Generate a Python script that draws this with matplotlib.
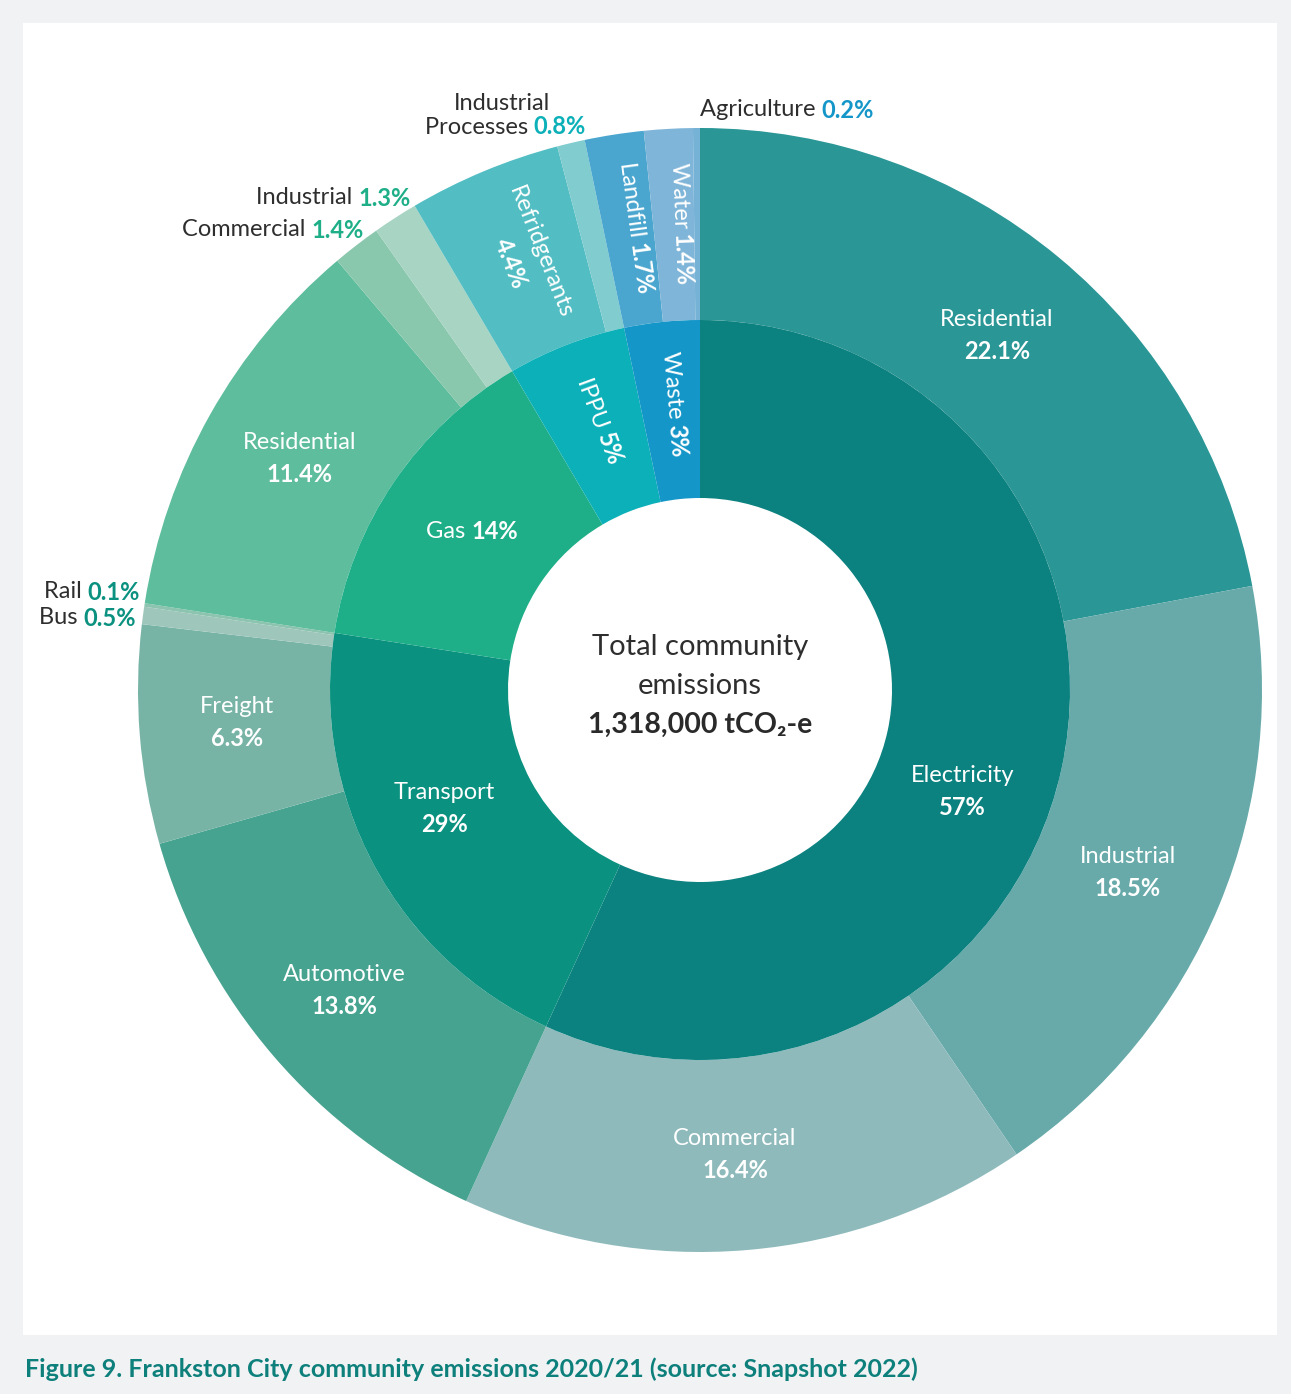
import numpy as np
import matplotlib

matplotlib.use("Agg")
import matplotlib.pyplot as plt
from matplotlib.patches import Rectangle

plt.rcParams["font.family"] = ["Lato", "DejaVu Sans"]

# inner ring (sectors) and their shares as printed on the chart
SECTORS = ["Electricity", "Transport", "Gas", "IPPU", "Waste"]
SECTOR_LABELS = ["57%", "29%", "14%", "5%", "3%"]
# outer ring (sub-sectors), clockwise from 12 o'clock, % of total
SUB_NAMES = ["Residential", "Industrial", "Commercial",
             "Automotive", "Freight", "Bus", "Rail",
             "Residential", "Commercial", "Industrial",
             "Refridgerants", "Processes",
             "Landfill", "Water", "Agriculture"]
SUB_VALUES = [22.1, 18.5, 16.4,
              13.8, 6.3, 0.5, 0.1,
              11.4, 1.4, 1.3,
              4.4, 0.8,
              1.7, 1.4, 0.2]
SUB_GROUP = [0, 0, 0, 1, 1, 1, 1, 2, 2, 2, 3, 3, 4, 4, 4]
TOTAL_LINES = ["Total community", "emissions", "1,318,000 tCO₂-e"]
CAPTION = "Figure 9. Frankston City community emissions 2020/21 (source: Snapshot 2022)"

SECTOR_COLORS = ["#0c8280", "#0a9180", "#1eaf88", "#0cb0b8", "#1496c8"]
SUB_COLORS = ["#2a9696", "#68aaaa", "#8fbabc",
              "#46a390", "#78b4a6", "#9ec6bb", "#8cc4b0",
              "#5dbd9c", "#8ac8ae", "#a8d4c4",
              "#52bec3", "#80cccf",
              "#4aa6cf", "#7fb5d8", "#76b2d6"]

W, H = 1291, 1394
CX, CY = 700, H - 690          # pie centre in pixel coords (y up)
R_OUT, R_MID, R_HOLE = 562, 370, 192
FS = 17

sector_values = [sum(v for v, g in zip(SUB_VALUES, SUB_GROUP) if g == i) for i in range(len(SECTORS))]

fig = plt.figure(figsize=(W / 100, H / 100), dpi=100, facecolor="#f1f2f4")
ax = fig.add_axes([0, 0, 1, 1])
ax.set_xlim(0, W); ax.set_ylim(0, H); ax.set_aspect("equal"); ax.axis("off")
ax.add_patch(Rectangle((23, H - 1335), 1254, 1312, facecolor="white", edgecolor="none", zorder=0))

ax.pie(SUB_VALUES, radius=R_OUT, center=(CX, CY), startangle=90, counterclock=False,
       colors=SUB_COLORS, wedgeprops=dict(width=R_OUT - R_MID, linewidth=0))
ax.pie(sector_values, radius=R_MID, center=(CX, CY), startangle=90, counterclock=False,
       colors=SECTOR_COLORS, wedgeprops=dict(width=R_MID - R_HOLE, linewidth=0))
ax.set_xlim(0, W); ax.set_ylim(0, H)
renderer = fig.canvas.get_renderer()


def polar(theta, r):
    """theta: degrees clockwise from 12 o'clock"""
    t = np.radians(theta)
    return CX + r * np.sin(t), CY + r * np.cos(t)


def radial_rot(theta):
    t = np.radians(theta)
    return np.degrees(np.arctan2(-np.cos(t), -np.sin(t)))


def text_w(s, **kw):
    t = ax.text(0, 0, s, **kw)
    w = t.get_window_extent(renderer).width
    t.remove()
    return w


NAME = dict(fontsize=FS, fontweight="normal")
PCT = dict(fontsize=FS, fontweight="bold")


def inline(x, y, name, pct, rot=0.0, name_col="white", pct_col="white", align="center"):
    """name (regular) + pct (bold) on one line, centred / right-aligned at (x, y), rotated by rot"""
    wn = text_w(name + " ", **NAME)
    wp = text_w(pct, **PCT)
    d = np.array([np.cos(np.radians(rot)), np.sin(np.radians(rot))])
    if align == "center":
        start = np.array([x, y]) - d * (wn + wp) / 2
    elif align == "right":
        start = np.array([x, y]) - d * (wn + wp)
    else:
        start = np.array([x, y])
    ax.text(*start, name + " ", ha="left", va="center_baseline", rotation=rot, rotation_mode="anchor",
            color=name_col, **NAME)
    p = start + d * wn
    ax.text(*p, pct, ha="left", va="center_baseline", rotation=rot, rotation_mode="anchor",
            color=pct_col, **PCT)


def stacked(x, y, name, pct, gap=16):
    ax.text(x, y + gap, name, ha="center", va="center_baseline", color="white", **NAME)
    ax.text(x, y - gap, pct, ha="center", va="center_baseline", color="white", **PCT)


cum = np.cumsum([0] + SUB_VALUES) * 3.6
sub_mid = (cum[:-1] + cum[1:]) / 2
scum = np.cumsum([0] + sector_values) * 3.6
sec_mid = (scum[:-1] + scum[1:]) / 2

# two-line labels in big outer wedges
for i in [0, 1, 2, 3, 4, 7]:
    x, y = polar(sub_mid[i], 464)
    stacked(x, y, SUB_NAMES[i], f"{SUB_VALUES[i]}%")

# refrigerants: rotated two-line label
rot = radial_rot(sub_mid[10])
x, y = polar(sub_mid[10], 466)
perp = np.array([np.sin(np.radians(rot)), -np.cos(np.radians(rot))])   # local "down"
ax.text(x - perp[0] * 15, y - perp[1] * 15, SUB_NAMES[10], ha="center", va="center_baseline",
        rotation=rot, rotation_mode="anchor", color="white", **NAME)
ax.text(x + perp[0] * 17, y + perp[1] * 17, f"{SUB_VALUES[10]}%", ha="center", va="center_baseline",
        rotation=rot, rotation_mode="anchor", color="white", **PCT)
for i in [12, 13]:
    x, y = polar(sub_mid[i], 466)
    inline(x, y, SUB_NAMES[i], f"{SUB_VALUES[i]}%", rot=radial_rot(sub_mid[i]))

# inner ring labels
x, y = polar(110.8, 281)
stacked(x, y, SECTORS[0], SECTOR_LABELS[0])
x, y = polar(sec_mid[1] + 3, 281)
stacked(x, y, SECTORS[1], SECTOR_LABELS[1])
x, y = polar(sec_mid[2], 279)
inline(x, y, SECTORS[2], SECTOR_LABELS[2])
for i in [3, 4]:
    x, y = polar(sec_mid[i], 287)
    inline(x, y, SECTORS[i], SECTOR_LABELS[i], rot=radial_rot(sec_mid[i]))

# outside labels: name in dark grey, percentage in sector colour
DARK = "#2e2e2e"
for i, xr, yb in [(6, 140, 590), (5, 136, 616), (9, 411, 196), (8, 364, 228), (11, 586, 125)]:
    inline(xr, H - yb, SUB_NAMES[i], f"{SUB_VALUES[i]}%", name_col=DARK,
           pct_col=SECTOR_COLORS[SUB_GROUP[i]], align="right")
ax.text(502, H - 101, "Industrial", ha="center", va="center_baseline", color=DARK, **NAME)
inline(700, H - 108, SUB_NAMES[14], f"{SUB_VALUES[14]}%", name_col=DARK,
       pct_col=SECTOR_COLORS[4], align="left")

# centre text
ax.text(CX, H - 645, TOTAL_LINES[0], ha="center", va="center_baseline", color=DARK, fontsize=21)
ax.text(CX, H - 684, TOTAL_LINES[1], ha="center", va="center_baseline", color=DARK, fontsize=21)
ax.text(CX, H - 722, TOTAL_LINES[2], ha="center", va="center_baseline", color="#2a2a2a",
        fontsize=20.5, fontweight="bold")

ax.text(25, H - 1367, CAPTION, ha="left", va="center_baseline", color="#0e807c", fontsize=18,
        fontweight="bold")

fig.savefig("out.png", dpi=100, facecolor=fig.get_facecolor())
